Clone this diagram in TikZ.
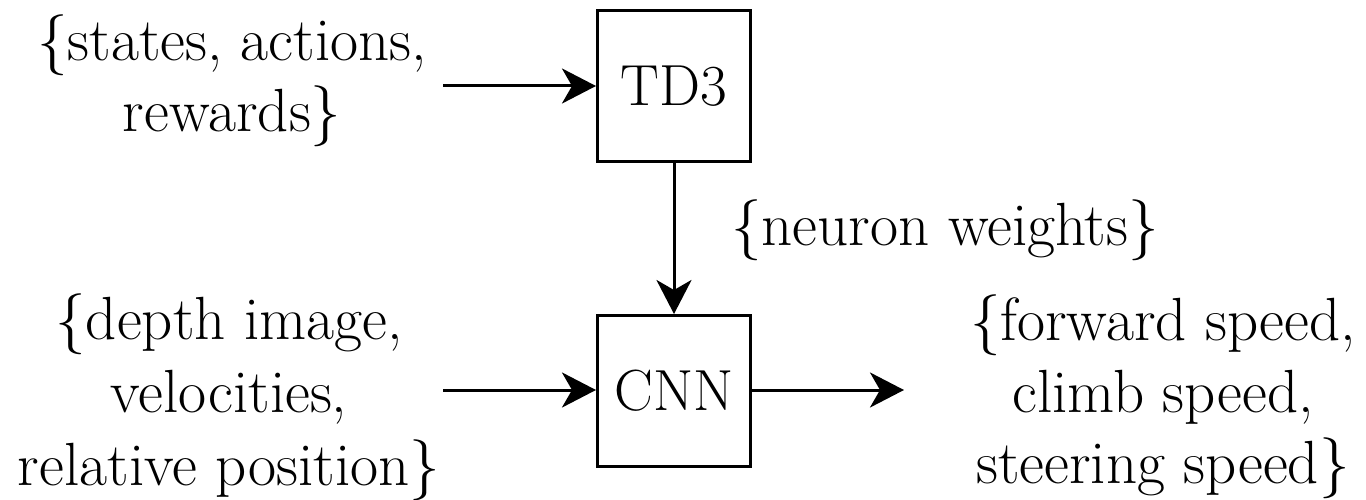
\documentclass[tikz,border=0pt]{standalone}
\usetikzlibrary{arrows.meta}
\tikzset{
  block/.style={draw, line width=3pt, minimum width=153pt, minimum height=151pt,
    inner sep=0pt, font=\fontsize{58}{72}\selectfont},
  lbl/.style={anchor=base, inner sep=0pt, font=\fontsize{61}{72}\selectfont},
  flow/.style={line width=3pt, -{Stealth[length=34pt, width=35pt, inset=10pt]}}
}
\begin{document}
\begin{tikzpicture}[x=1pt, y=-1pt]
  \useasboundingbox (0,0) rectangle (1366,500);

  % processing blocks
  \node[block] (td3) at (674,86) {TD3};
  \node[block] (cnn) at (674,391) {CNN};

  % training data
  \node[lbl] (tr1) at (232,61) {\{states, actions,};
  \node[lbl] (tr2) at (232,132) {rewards\}};

  % network inputs
  \node[lbl] (in1) at (229,339) {\{depth image,};
  \node[lbl] (in2) at (229,412) {velocities,};
  \node[lbl] (in3) at (229,485) {relative position\}};

  % weights label
  \node[lbl] (nw) at (945,245) {\{neuron weights\}};

  % network outputs
  \node[lbl] (out1) at (1163,340) {\{forward speed,};
  \node[lbl] (out2) at (1163,412) {climb speed,};
  \node[lbl] (out3) at (1163,483) {steering speed\}};

  % connector ends
  \coordinate (trEnd) at (443,86);
  \coordinate (inEnd) at (443,390);
  \coordinate (outEnd) at (904,390);

  \draw[flow] (trEnd) -- (td3.west);
  \draw[flow] (td3.south) -- (cnn.north);
  \draw[flow] (inEnd) -- (cnn.west |- inEnd);
  \draw[flow] (cnn.east |- outEnd) -- (outEnd);
\end{tikzpicture}
\end{document}
